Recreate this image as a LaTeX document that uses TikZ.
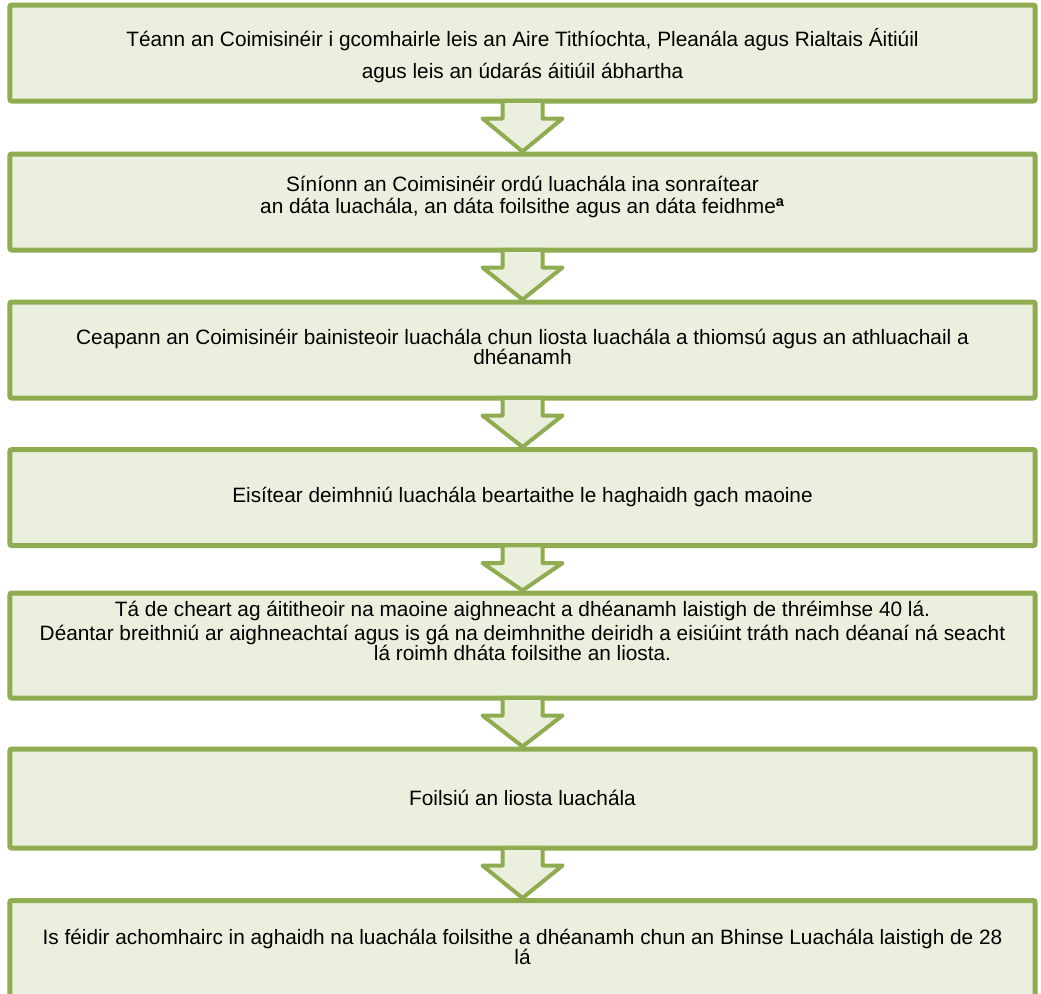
\documentclass[tikz,border=0pt]{standalone}
\usepackage{fontspec}
\setmainfont{Liberation Sans}
\usetikzlibrary{calc}

\definecolor{stagegreen}{RGB}{143,172,80}
\definecolor{stagefill}{RGB}{235,240,222}

\tikzset{
  stage/.style={draw=stagegreen, fill=stagefill, line width=3.75pt,
    rounded corners=1.5pt, minimum width=769pt, minimum height=72pt, inner sep=0pt},
  stagetext/.style={font=\fontsize{15.6}{15}\selectfont, align=center, inner sep=0pt},
}

% hollow block arrow from the bottom of one stage to the top of the next
\newcommand{\stagearrow}[2]{%
  \path let \p1=(#1.south), \p2=(#2.north) in
    [fill=stagefill] (\x1-15pt,\y1+2pt) -- (\x1-15pt,\y1-11.25pt) -- (\x1-30pt,\y1-11.25pt)
      -- (\x1,\y2) -- (\x1+30pt,\y1-11.25pt) -- (\x1+15pt,\y1-11.25pt) -- (\x1+15pt,\y1+2pt) -- cycle
    [draw=stagegreen, line width=3pt, line join=round] (\x1-15pt,\y1) -- (\x1-15pt,\y1-11.25pt)
      -- (\x1-30pt,\y1-11.25pt) -- (\x1,\y2) -- (\x1+30pt,\y1-11.25pt) -- (\x1+15pt,\y1-11.25pt)
      -- (\x1+15pt,\y1);}

\begin{document}
\begin{tikzpicture}[x=0.75pt,y=-0.75pt]
  \useasboundingbox (0,0) rectangle (1041,993);

  % stages
  \node[stage] (s1) at (522.5,53) {};
  \node[stage] (s2) at (522.5,202) {};
  \node[stage] (s3) at (522.5,350) {};
  \node[stage] (s4) at (522.5,497.5) {};
  \node[stage, minimum height=78.75pt] (s5) at (522.5,645.5) {};
  \node[stage, minimum height=74.25pt] (s6) at (522.5,798.5) {};
  \node[stage] (s7) at (522.5,948.5) {};

  % arrows
  \stagearrow{s1}{s2}
  \stagearrow{s2}{s3}
  \stagearrow{s3}{s4}
  \stagearrow{s4}{s5}
  \stagearrow{s5}{s6}
  \stagearrow{s6}{s7}

  % texts
  \node[stagetext] (t1) at (522.5,56) {Téann an Coimisinéir i gcomhairle leis an Aire Tithíochta, Pleanála agus Rialtais Áitiúil\\[9pt]
    agus leis an údarás áitiúil ábhartha};
  \node[stagetext] (t2) at (522.5,197) {Síníonn an Coimisinéir ordú luachála ina sonraítear\\[1.5pt]
    an dáta luachála, an dáta foilsithe agus an dáta feidhme\textsuperscript{\textbf{a}}};
  \node[stagetext] (t3) at (522.5,347) {Ceapann an Coimisinéir bainisteoir luachála chun liosta luachála a thiomsú agus an athluachail a\\
    dhéanamh};
  \node[stagetext] (t4) at (522.5,497) {Eisítear deimhniú luachála beartaithe le haghaidh gach maoine};
  \node[stagetext] (t5) at (522.5,631) {Tá de cheart ag áititheoir na maoine aighneacht a dhéanamh laistigh de thréimhse 40 lá.\\[3pt]
    Déantar breithniú ar aighneachtaí agus is gá na deimhnithe deiridh a eisiúint tráth nach déanaí ná seacht\\
    lá roimh dháta foilsithe an liosta.};
  \node[stagetext] (t6) at (522.5,798) {Foilsiú an liosta luachála};
  \node[stagetext] (t7) at (522.5,947) {Is féidir achomhairc in aghaidh na luachála foilsithe a dhéanamh chun an Bhinse Luachála laistigh de 28\\
    lá};
\end{tikzpicture}
\end{document}
